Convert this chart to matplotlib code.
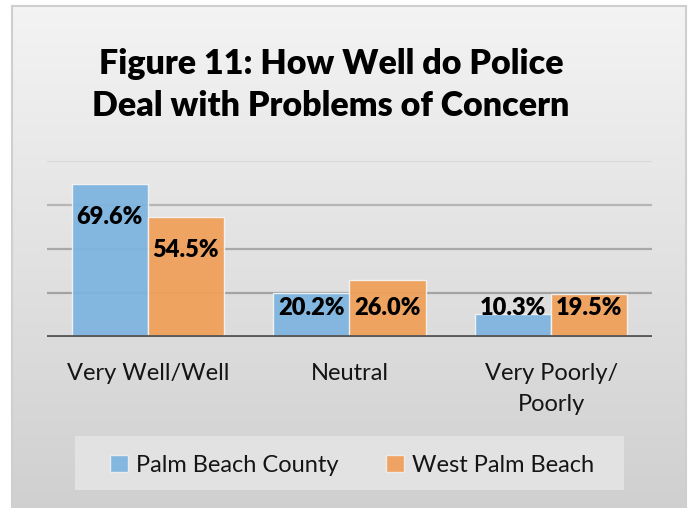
import numpy as np
import matplotlib
matplotlib.use("Agg")
import matplotlib.pyplot as plt
from matplotlib.patches import Rectangle, Patch

categories = ["Very Well/Well", "Neutral", "Very Poorly/\nPoorly"]
series_names = ["Palm Beach County", "West Palm Beach"]
palm_beach_county = [69.6, 20.2, 10.3]
west_palm_beach = [54.5, 26.0, 19.5]
title = "Figure 11: How Well do Police\nDeal with Problems of Concern"

W, H = 691, 508
fig = plt.figure(figsize=(W / 100, H / 100), dpi=100)
fig.patch.set_facecolor("white")

# background gradient panel
bg = fig.add_axes([12 / W, 0, (686 - 12) / W, (H - 6) / H])
grad = np.linspace(0, 1, 256).reshape(-1, 1)
top = np.array([0.955, 0.955, 0.955])
bot = np.array([0.815, 0.815, 0.815])
img = top + (bot - top) * grad[..., None]
img = img.squeeze(1)[:, None, :].repeat(2, axis=1)
bg.imshow(img, aspect="auto", extent=[0, 1, 0, 1], origin="upper")
bg.set_xlim(0, 1); bg.set_ylim(0, 1)
bg.set_xticks([]); bg.set_yticks([])
for s in bg.spines.values():
    s.set_color("#cfcfcf"); s.set_linewidth(1.5)
bg.spines["bottom"].set_visible(False)

fontfam = "Lato"
ax = fig.add_axes([47 / W, (H - 337) / H, (652 - 47) / W, 176 / H])
ax.patch.set_alpha(0)
x = np.arange(len(categories))
bw = 0.377
colors = ["#7db4e0", "#f19f58"]
ax.set_xlim(-0.5, len(categories) - 0.5)
ax.set_ylim(0, 80)

grid_colors = {20: "#a3a3a3", 40: "#a8a8a8", 60: "#b5b5b5", 80: "#d9d9d9"}
for yv, c in grid_colors.items():
    ax.axhline(yv, color=c, lw=1.6, zorder=1)

for i, (vals, c) in enumerate(zip([palm_beach_county, west_palm_beach], colors)):
    xs = x + (i - 0.5) * bw
    bars = ax.bar(xs, vals, width=bw, color=c, edgecolor="#f4f4f4", linewidth=1.0,
                  alpha=0.93, zorder=3)
    for xi, v in zip(xs, vals):
        ax.text(xi, max(v - 15, 13.2), f"{v:.1f}%", ha="center", va="center",
                fontsize=17, fontweight="heavy", family=fontfam, color="black", zorder=5)

ax.axhline(0, color="#595959", lw=3.5, zorder=4)
for s in ax.spines.values():
    s.set_visible(False)
ax.set_yticks([])
ax.set_xticks(x)
ax.set_xticklabels(categories, fontsize=17, family=fontfam, color="#151515", linespacing=1.55)
ax.tick_params(axis="x", length=0, pad=19)

fig.text(331 / W, 1 - 85 / H, title, ha="center", va="center", fontsize=24.5,
         fontweight="heavy", family=fontfam, color="black", linespacing=1.38)

# legend box
fig.patches.append(Rectangle((75 / W, (H - 490) / H), (624 - 75) / W, 54 / H,
                             transform=fig.transFigure, facecolor="#e2e2e2",
                             edgecolor="none", zorder=2))
handles = [Patch(facecolor=c, edgecolor="#eeeeee", alpha=0.93) for c in colors]
leg = fig.legend(handles, series_names, loc="center", bbox_to_anchor=(352 / W, 1 - 465 / H),
                 ncol=2, frameon=False, prop={"family": fontfam, "size": 17},
                 handlelength=0.75, handleheight=0.75, handletextpad=0.35, columnspacing=2.0)
for t in leg.get_texts():
    t.set_color("#151515")
leg.set_zorder(5)

fig.savefig("out.png", dpi=100)
